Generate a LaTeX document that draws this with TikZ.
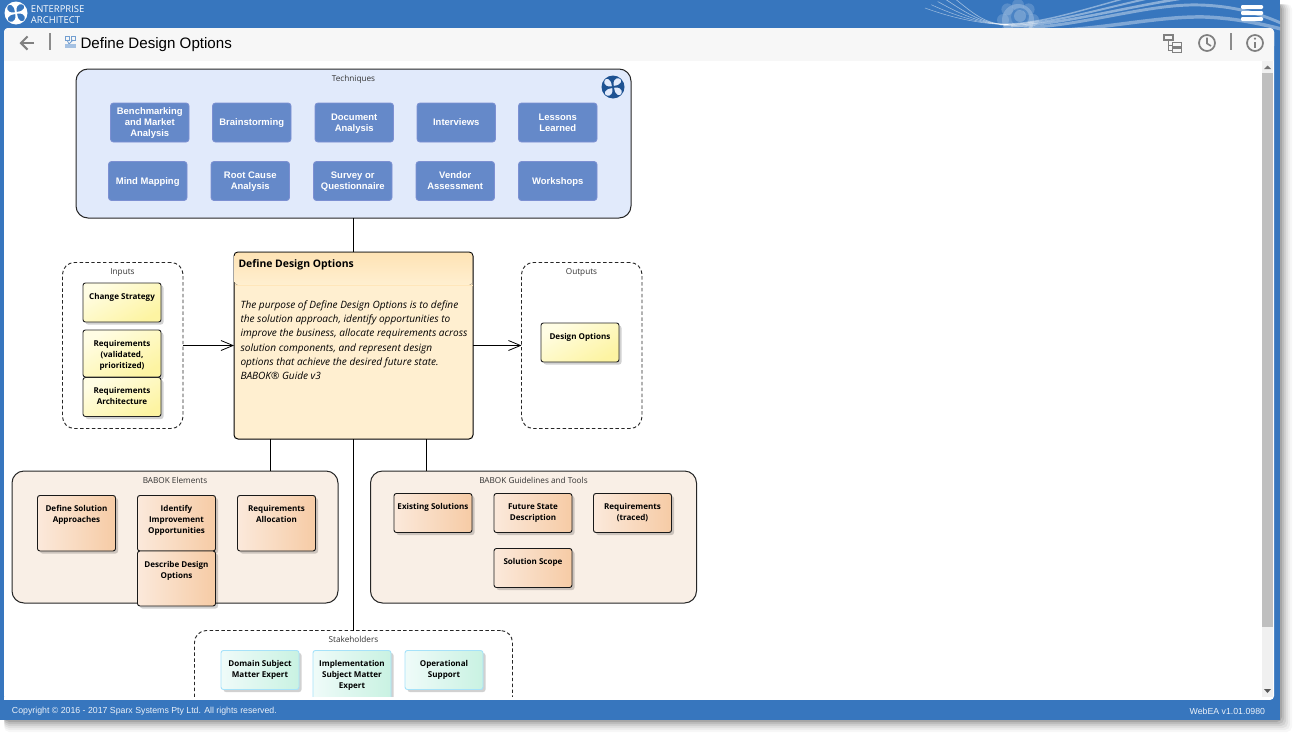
\documentclass[tikz,border=0pt]{standalone}
\usepackage{fontspec}
\setmainfont{Liberation Sans}
\newfontfamily\boxfont{Open Sans}
\usetikzlibrary{arrows.meta,calc}
\definecolor{winblue}{HTML}{3776BE}
\definecolor{techfill}{HTML}{E1EAFB}
\definecolor{techbox}{HTML}{6589C9}
\definecolor{techline}{HTML}{7C90D2}
\definecolor{elemfill}{HTML}{F9EFE6}
\definecolor{barbg}{HTML}{F7F7F7}
\definecolor{icongray}{HTML}{808080}
\definecolor{logoblue}{HTML}{1D5292}
\definecolor{FFFDE4}{HTML}{FFFDE4}
\definecolor{FEF6AC}{HTML}{FDF4A2}
\definecolor{FBE9DB}{HTML}{FBE9DB}
\definecolor{F6CBA5}{HTML}{F6CBA5}
\definecolor{EFFBF9}{HTML}{EFFBF9}
\definecolor{C9F2E2}{HTML}{C9F2E2}
\definecolor{mainbody}{HTML}{FFEFD0}
\definecolor{maintop}{HTML}{FEE3B5}
\definecolor{mainline}{HTML}{FFE6BA}
\tikzset{
 x=0.75pt,y=-0.75pt,
 every node/.style={inner sep=0pt,outer sep=0pt},
 group/.style={draw=black!85,line width=0.75pt,rounded corners=9pt},
 solidgroup/.style={group,fill=#1},
 dashgroup/.style={group,dash pattern=on 2.6pt off 1.8pt,line width=0.7pt,fill=white},
 grouptitle/.style={font=\boxfont\fontsize{6.15}{7}\selectfont,text=black!80,anchor=center,yshift=-0.75pt},
 techstyle/.style={draw=techline,line width=0.6pt,fill=techbox,rounded corners=2.2pt,text=white,align=center,
   font=\bfseries\fontsize{7.1}{8.2}\selectfont},
 yellowbox/.style={draw=black!85,line width=0.7pt,rounded corners=1.8pt,top color=FFFDE4,bottom color=FEF6AC,shading angle=30},
 orangebox/.style={draw=black!90,line width=0.7pt,rounded corners=1.8pt,left color=FBE9DB,right color=F6CBA5},
 tealbox/.style={draw=cyan!35!white,line width=0.7pt,rounded corners=1.8pt,left color=EFFBF9,right color=C9F2E2},
 boxtext/.style={font=\boxfont\bfseries\fontsize{6.05}{8.25}\selectfont,align=center,text=black,anchor=north},
 link/.style={draw=black,line width=0.75pt},
 openarrow/.style={link,-{Straight Barb[length=9pt,width=7.5pt,line width=0.6pt]}},
 shadowfill/.style={fill=black,fill opacity=#1,draw=none},
 wave/.style={draw=white,line cap=round},
}
\newcommand{\techbox}[6]{\node[techstyle,anchor=north west,minimum width=#4*0.75pt,minimum height=#5*0.75pt] (#1) at (#2,#3) {\raisebox{-0.75pt}[\height][\depth]{\begin{tabular}{@{}c@{}}#6\end{tabular}}};}
\newcommand{\notebox}[7]{%
 \fill[black,opacity=.18,rounded corners=1.8pt] (#3+2.5,#4+2.5) rectangle ++(#5,#6);
 \node[#2,anchor=north west,minimum width=#5*0.75pt,minimum height=#6*0.75pt] (#1) at (#3,#4) {};
 \node[boxtext] (#1-t) at (#3+#5/2,#4+10) {#7};}
% cx cy r solid hole
\newcommand{\knot}[5]{%
 \begin{scope}[shift={(#1,#2)},scale=#3/10]
 \fill[#4] (0,0) circle[radius=10];
 \foreach \a in {0,90,180,270}{
  \fill[#5,rotate=\a] (0.7,-1) .. controls (-0.5,-4.5) and (2,-8.3) .. (5,-7.6) .. controls (8.6,-6.5) and (8,-1.8) .. (0.7,-1) -- cycle;}
 \end{scope}}
\begin{document}
\begin{tikzpicture}
\useasboundingbox (0,0) rectangle (1310,750);
\fill[white] (0,0) rectangle (1310,750);
% window shadow
\foreach \d/\o in {12/.03,10/.04,8/.05,6/.07,4/.09,2/.12}{
  \fill[shadowfill=\o,rounded corners=4pt] (4,4) rectangle (1280+\d,720+\d);}
% window
\fill[winblue] (0,0) rectangle (1280,720);
% header decoration
\begin{scope}
\clip (0,0) rectangle (1280,34);
\fill[white,opacity=.22] (1018,20) circle[radius=16];
\foreach \a in {0,45,...,315}{\fill[white,opacity=.16] (1018,20)+(\a:15) circle[radius=6];}
\fill[winblue,opacity=.55] (1020,17) circle[radius=9];
\fill[white,opacity=.22] (1020,16) circle[radius=6];
\foreach \s/\w in {0/.4,4/.4,8/.45,12/.5,16/.5}{
 \draw[wave,line width=\w pt,opacity=.5] (925+\s*1.6,8-\s*.8) .. controls (955+\s*1.2,19-\s*.3) and (985,24.5) .. (1008,24.5);}
\draw[wave,line width=1.1pt,opacity=.42] (1000,24.5) .. controls (1040,24) and (1075,12) .. (1130,-3);
\draw[wave,line width=1.5pt,opacity=.42] (1004,25) .. controls (1050,24.5) and (1095,10) .. (1155,-3);
\draw[wave,line width=1.9pt,opacity=.42] (1012,26) .. controls (1060,25) and (1120,8) .. (1185,-2);
\draw[wave,line width=2.2pt,opacity=.38] (1030,27.5) .. controls (1090,24) and (1150,3.5) .. (1200,5) .. controls (1232,6) and (1260,13) .. (1285,25);
\draw[wave,line width=2.6pt,opacity=.36] (1050,31) .. controls (1110,28) and (1160,16) .. (1205,17) .. controls (1230,18) and (1255,22) .. (1285,30);
\end{scope}
% panel
\fill[white,rounded corners=3pt] (4,28) rectangle (1274,700);
\fill[barbg,rounded corners=3pt] (4,28) rectangle (1274,50);
\fill[barbg] (4,40) rectangle (1274,61);
\fill[black!6] (1262,61) rectangle (1273,697);
\fill[black!25] (1262,73) rectangle (1273,627);
\fill[black!55] (1264,69) -- (1267.5,65.5) -- (1271,69) -- cycle;
\fill[black!65] (1264,689) -- (1271,689) -- (1267.5,693) -- cycle;
% logo & brand
\knot{16}{13}{11.5}{white}{winblue}
\node[anchor=west,text=white,font=\boxfont\fontsize{7.1}{8}\selectfont] (brand1) at (31,9) {ENTERPRISE};
\node[anchor=west,text=white,font=\boxfont\fontsize{7.1}{8}\selectfont] (brand2) at (31,20) {ARCHITECT};
% hamburger
\foreach \yy in {5,11,17}{\fill[white,rounded corners=.8pt] (1241,\yy) rectangle (1263,\yy+4);}
% toolbar
\draw[icongray,line width=1.5pt,-{Straight Barb[length=5pt,width=10pt,line width=1.5pt]}] (34,43) -- (19.5,43);
\draw[black!45,line width=.8pt] (50,33) -- (50,50);
\begin{scope}[draw=winblue!70,line width=.6pt]
\draw (65,36.5) rectangle (69,40); \draw (71,36.5) rectangle (75,40);
\draw (67,40) -- (69,44) -- (73,40);
\fill[winblue!45] (65,44) rectangle (76,47.5);
\end{scope}
\node[anchor=west,font=\fontsize{11.35}{13}\selectfont] (pagetitle) at (80.5,44.5) {Define Design Options};
\begin{scope}[draw=icongray]
\draw[line width=1.1pt] (1164,35) rectangle (1173,40);
\draw[line width=1.1pt] (1172.5,42.5) rectangle (1181.5,47);
\draw[line width=1.1pt] (1172.5,48.5) rectangle (1181.5,52.5);
\draw[line width=.6pt] (1168,40) -- (1168,50.5) -- (1172.5,50.5) (1168,45) -- (1172.5,45);
\draw[line width=1.3pt] (1207,43) circle[radius=8];
\draw[line width=1.2pt] (1207,37.5) -- (1207,43.5) -- (1211,46);
\draw[black!45,line width=.8pt] (1231,33) -- (1231,50);
\draw[line width=1.3pt] (1255,43) circle[radius=8];
\draw[line width=1.8pt] (1255,42) -- (1255,48);
\fill[icongray] (1255,38.6) circle[radius=1.2];
\end{scope}
% Techniques
\node[solidgroup=techfill,anchor=north west,minimum width=555*.75pt,minimum height=149*.75pt] (techniques) at (76,69) {};
\node[grouptitle] (techniques-t) at (353.5,78) {Techniques};
\knot{613}{87}{11.5}{logoblue}{techfill}
\techbox{b1}{110.5}{103}{78.5}{39}{Benchmarking\\and Market\\Analysis}
\techbox{b2}{212.5}{103}{78.5}{39}{Brainstorming}
\techbox{b3}{315}{103}{78.5}{39}{Document\\Analysis}
\techbox{b4}{417}{103}{78.5}{39}{Interviews}
\techbox{b5}{518.5}{103}{78.5}{39}{Lessons\\Learned}
\techbox{b6}{108.5}{161.5}{78.5}{39}{Mind Mapping}
\techbox{b7}{211}{161.5}{78.5}{39}{Root Cause\\Analysis}
\techbox{b8}{313.5}{161.5}{78.5}{39}{Survey or\\Questionnaire}
\techbox{b9}{416}{161.5}{78.5}{39}{Vendor\\Assessment}
\techbox{b10}{518.5}{161.5}{78.5}{39}{Workshops}
% Inputs
\node[dashgroup,anchor=north west,minimum width=120.5*.75pt,minimum height=166*.75pt] (inputs) at (62.5,262.5) {};
\node[grouptitle] (inputs-t) at (122.5,271.5) {Inputs};
\notebox{i1}{yellowbox}{83}{283}{78}{39}{Change Strategy}
\notebox{i2}{yellowbox}{83}{330}{78}{47}{Requirements\\(validated,\\prioritized)}
\notebox{i3}{yellowbox}{83}{377.5}{78}{39}{Requirements\\Architecture}
% Main
\node[draw=black,line width=.75pt,rounded corners=3pt,fill=mainbody,anchor=north west,minimum width=239*.75pt,minimum height=187*.75pt] (main) at (234,252) {};
\fill[top color=maintop,bottom color=mainbody,rounded corners=2.5pt] (234.6,252.6) rectangle (472.4,285);
\draw[mainline,line width=.6pt] (235,285) -- (472.5,285);
\node[anchor=west,font=\boxfont\bfseries\fontsize{7.8}{9}\selectfont] (main-title) at (238.5,264.5) {Define Design Options};
\node[anchor=north west,align=left,font=\boxfont\itshape\fontsize{7.55}{10.7}\selectfont] (main-text) at (240.5,300.5) {The purpose of Define Design Options is to define\\the solution approach, identify opportunities to\\improve the business, allocate requirements across\\solution components, and represent design\\options that achieve the desired future state.\\BABOK® Guide v3};
% Outputs
\node[dashgroup,anchor=north west,minimum width=120.5*.75pt,minimum height=166*.75pt] (outputs) at (521.5,262.5) {};
\node[grouptitle] (outputs-t) at (581.5,271.5) {Outputs};
\notebox{o1}{yellowbox}{541}{323}{78}{39}{Design Options}
% BABOK Elements
\node[solidgroup=elemfill,anchor=north west,minimum width=326*.75pt,minimum height=132*.75pt] (elements) at (12,471) {};
\node[grouptitle] (elements-t) at (175,479) {BABOK Elements};
\notebox{e1}{orangebox}{37.5}{495.5}{78}{55.5}{Define Solution\\Approaches}
\notebox{e2}{orangebox}{137.5}{495.5}{78}{55.5}{Identify\\Improvement\\Opportunities}
\notebox{e3}{orangebox}{237.5}{495.5}{78}{55.5}{Requirements\\Allocation}
\notebox{e4}{orangebox}{137.5}{551}{78}{55}{Describe Design\\Options}
% Guidelines
\node[solidgroup=elemfill,anchor=north west,minimum width=326*.75pt,minimum height=132*.75pt] (guides) at (370.5,471) {};
\node[grouptitle] (guides-t) at (533.5,479) {BABOK Guidelines and Tools};
\notebox{g1}{orangebox}{394}{493.5}{78}{39}{Existing Solutions}
\notebox{g2}{orangebox}{494}{493.5}{78}{39}{Future State\\Description}
\notebox{g3}{orangebox}{593.5}{493.5}{78}{39}{Requirements\\(traced)}
\notebox{g4}{orangebox}{494}{548.5}{78}{39}{Solution Scope}
% Stakeholders
\node[dashgroup,anchor=north west,minimum width=318*.75pt,minimum height=85*.75pt] (stake) at (194.5,630.5) {};
\node[grouptitle] (stake-t) at (353.5,638) {Stakeholders};
\notebox{s1}{tealbox}{221}{650.5}{78}{39}{Domain Subject\\Matter Expert}
\notebox{s2}{tealbox}{313}{650.5}{78}{56}{Implementation\\Subject Matter\\Expert}
\notebox{s3}{tealbox}{405}{650.5}{78}{39}{Operational\\Support}
% connectors
\coordinate (mainA) at (270.5,439);
\coordinate (mainB) at (426.5,439);
\draw[link] (techniques) -- (main);
\draw[openarrow] (inputs.east) -- (main.west |- inputs.east);
\draw[openarrow] (main.east |- outputs.west) -- (outputs.west);
\draw[link] (mainA) -- (mainA |- elements.north);
\draw[link] (mainB) -- (mainB |- guides.north);
\draw[link] (main.south) -- (stake.north);
% footer (covers the clipped diagram)
\fill[white] (4,696.5) rectangle (1262,700);
\fill[winblue] (0,700) rectangle (1280,720);
\fill[winblue] (0,61) rectangle (4,720);
\node[anchor=west,text=white!90!winblue,font=\fontsize{6.57}{8}\selectfont] (copyright) at (12,711) {Copyright © 2016 - 2017 Sparx Systems Pty Ltd. All rights reserved.};
\node[anchor=east,text=white!90!winblue,font=\fontsize{6.57}{8}\selectfont] (version) at (1265,711) {WebEA v1.01.0980};
\end{tikzpicture}
\end{document}
